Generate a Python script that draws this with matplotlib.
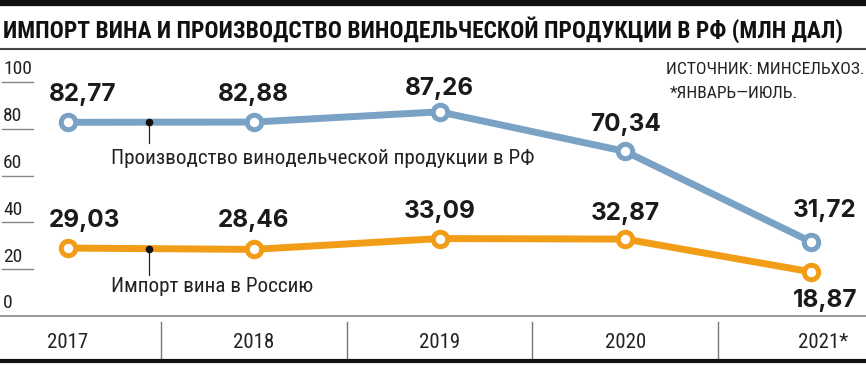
import numpy as np
import matplotlib
matplotlib.use('Agg')
import matplotlib.pyplot as plt
import matplotlib.transforms as mtransforms
from matplotlib import font_manager as fm

# -----------------------------
# data (млн дал)
years = ['2017', '2018', '2019', '2020', '2021*']
production = [82.77, 82.88, 87.26, 70.34, 31.72]
imports = [29.03, 28.46, 33.09, 32.87, 18.87]
prod_labels = ['82,77', '82,88', '87,26', '70,34', '31,72']
imp_labels = ['29,03', '28,46', '33,09', '32,87', '18,87']
y_ticks = [0, 20, 40, 60, 80, 100]

title = 'ИМПОРТ ВИНА И ПРОИЗВОДСТВО ВИНОДЕЛЬЧЕСКОЙ ПРОДУКЦИИ В РФ (МЛН ДАЛ)'
source = 'ИСТОЧНИК: МИНСЕЛЬХОЗ.'
note = '*ЯНВАРЬ—ИЮЛЬ.'
prod_name = 'Производство винодельческой продукции в РФ'
imp_name = 'Импорт вина в Россию'

BLUE = '#7aa2c5'
ORANGE = '#f29d17'

# pick a condensed face if one is around, else fall back
avail = {f.name for f in fm.fontManager.ttflist}
def pick(cands):
    return [c for c in cands if c in avail] + ['DejaVu Sans']
NARROW = pick(['Roboto Condensed', 'PT Sans Narrow', 'Fira Sans Condensed', 'IBM Plex Sans Condensed', 'Liberation Sans Narrow', 'Liberation Sans'])
BOLD = pick(['Inter', 'Liberation Sans'])

# -----------------------------
W, H = 866, 365
fig = plt.figure(figsize=(W / 100, H / 100), dpi=100)
ax = fig.add_axes([0, 0, 1, 1])
ax.axis('off')

# pixel layout of the plot area
x0_px, x4_px = 68, 811
y0_px, y100_px = 316, 82
ux = (x4_px - x0_px) / 4
uy = (y0_px - y100_px) / 100
ax.set_xlim(-x0_px / ux, 4 + (W - x4_px) / ux)
ax.set_ylim(-(H - y0_px) / uy, y0_px / uy)

xs = np.arange(len(years))

# top bar, title, rule under it
fig.add_artist(plt.Line2D([0, 1], [1 - 3 / H, 1 - 3 / H], color='#111111', lw=4.5))
t_title = fig.text(3 / W, 1 - 30 / H, title, fontsize=20, fontweight='bold', family=NARROW,
                   va='center', ha='left', color='#111111')
# shrink the title so it ends where the reference one does (~843 px)
r = fig.canvas.get_renderer()
tw = t_title.get_window_extent(r).width
if tw > 840:
    t_title.set_fontsize(20 * 840 / tw)
fig.add_artist(plt.Line2D([0, 1], [1 - 49 / H, 1 - 49 / H], color='#444444', lw=1.5))

# source text
fig.text(864 / W, 1 - 70 / H, source, fontsize=12.6, family=NARROW, ha='right', va='center', color='#222222')
fig.text(670 / W, 1 - 93 / H, note, fontsize=12.6, family=NARROW, ha='left', va='center', color='#222222')

# y ticks: short stubs with labels above
blend = mtransforms.blended_transform_factory(fig.transFigure, ax.transData)
for t in y_ticks[1:]:
    ax.plot([2 / W, 33 / W], [t, t], color='#888888', lw=1, transform=blend)
for t in y_ticks:
    ax.text(3 / W, t + 1.5, str(t), fontsize=14, family=NARROW, ha='left', va='bottom',
            color='#222222', transform=blend)

# x axis line, separators, bottom bar
ax.axhline(0, color='#888888', lw=1.2)
for i in range(len(years) - 1):
    ax.plot([i + 0.5, i + 0.5], [-2.6, -18.3], color='#777777', lw=1)
for i, yr in enumerate(years):
    xx = i + 0.065 if yr.endswith('*') else i
    ax.text(xx, -11.5, yr, fontsize=15, family=NARROW, ha='center', va='center', color='#222222')
ax.axhline(-19.3, color='#111111', lw=3)

# lines
for vals, col in [(production, BLUE), (imports, ORANGE)]:
    ax.plot(xs, vals, color=col, lw=5, solid_capstyle='round', zorder=3)
    ax.plot(xs, vals, 'o', ms=10.4, mfc='white', mec=col, mew=3.6, zorder=4)

# value labels
prod_off = [(15, 28), (0, 28), (0, 23), (0, 27), (14, 31)]
imp_off = [(16, 28), (0, 29), (0, 27), (0, 26), (14, -29)]
for i in xs:
    ax.annotate(prod_labels[i], (i, production[i]), xytext=prod_off[i], textcoords='offset pixels',
                ha='center', va='center', fontsize=17.5, fontweight='bold', family=BOLD, color='#1a1a1a')
    ax.annotate(imp_labels[i], (i, imports[i]), xytext=imp_off[i], textcoords='offset pixels',
                ha='center', va='center', fontsize=17.5, fontweight='bold', family=BOLD, color='#1a1a1a')

# series name callouts
xd = (149 - x0_px) / ux
for vals, name, y_end, y_txt in [(production, prod_name, 74, 67.5), (imports, imp_name, 17.5, 12.4)]:
    yd = np.interp(xd, xs, vals)
    ax.plot([xd, xd], [yd, y_end], color='#222222', lw=0.9, zorder=5)
    ax.plot(xd, yd, 'o', ms=4.5, color='#111111', zorder=6)
    ax.text((111 - x0_px) / ux, y_txt, name, fontsize=15.2, family=NARROW, ha='left', va='center', color='#222222')

fig.savefig('out.png', dpi=100)
